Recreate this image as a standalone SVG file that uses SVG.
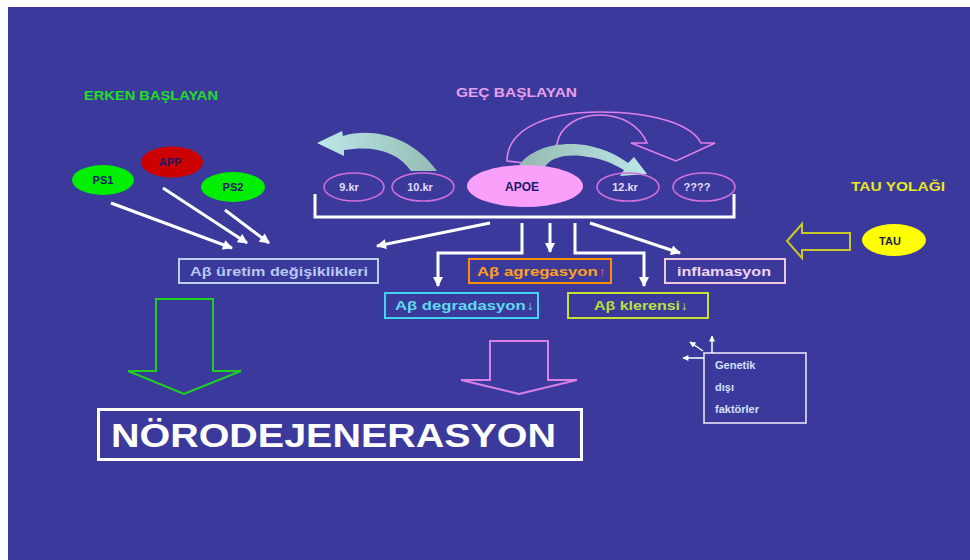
<svg xmlns="http://www.w3.org/2000/svg" width="970" height="560" viewBox="0 0 970 560">
<defs>
<style>
.t{font-family:"Liberation Sans",Arial,sans-serif;font-weight:bold}
.lbl{font-size:12px}
.dark{fill:#1a1a6a;font-size:11px}
.small{fill:#e4dcff;font-size:11px}
.conn{fill:none;stroke:#ffffff;stroke-width:3}
.thin{fill:none;stroke:#ffffff;stroke-width:1.5}
.box{fill:none;stroke-width:2}
.kr{fill:none;stroke:#d070d8;stroke-width:1.6}
</style>
<marker id="ah" viewBox="0 0 10 10" refX="9" refY="5" markerWidth="11" markerHeight="10" markerUnits="userSpaceOnUse" orient="auto"><path d="M0,0 L10,5 L0,10 z" fill="#ffffff"/></marker>
<marker id="ahs" viewBox="0 0 10 10" refX="9" refY="5" markerWidth="7" markerHeight="6" markerUnits="userSpaceOnUse" orient="auto"><path d="M0,0 L10,5 L0,10 z" fill="#ffffff"/></marker>
<linearGradient id="gL" x1="0" y1="0" x2="1" y2="0"><stop offset="0" stop-color="#bce8e8"/><stop offset="1" stop-color="#94bcb4"/></linearGradient>
<linearGradient id="gR" x1="0" y1="0" x2="1" y2="0"><stop offset="0" stop-color="#94b8b0"/><stop offset="1" stop-color="#bce8e8"/></linearGradient>
</defs>
<rect x="0" y="0" width="970" height="560" fill="#ffffff"/>
<rect x="8" y="7" width="962" height="553" fill="#3b3a9c"/>

<g id="titles">
<text class="t" x="84" y="100" font-size="12" fill="#1ee01e" textLength="134" lengthAdjust="spacingAndGlyphs">ERKEN BAŞLAYAN</text>
<text class="t" x="456" y="97" font-size="12" fill="#e8a0ec" textLength="121" lengthAdjust="spacingAndGlyphs">GEÇ BAŞLAYAN</text>
<text class="t" x="851" y="191" font-size="12" fill="#e8e820" textLength="94" lengthAdjust="spacingAndGlyphs">TAU YOLAĞI</text>
</g>

<g id="curved-arrows">
<path id="pink-curve" d="M507,161 C507,130 545,112 600,112 C655,112 692,125 701,143 L715,143 L676,161 L631,143 L647,143 C640,126 622,115 600,115 C578,115 560,126 557,144 L542,165 Z" fill="none" stroke="#e080e8" stroke-width="1.6"/>
<path id="left-curve" d="M317,143 L342,131 L343,136 C372,127 412,136 437,171 L411,171 C398,152 375,145 344,150 L344,156 Z" fill="url(#gL)"/>
<path id="right-curve" d="M518,167 C530,148 560,140 590,146 C608,150 620,157 628,163 L634,157 L647,174 L620,176 L624,170 C612,163 600,158 588,157 C565,153 550,158 544,168 Z" fill="url(#gR)"/>
</g>

<g id="ps1"><ellipse cx="103" cy="180" rx="31" ry="15" fill="#00ee00"/><text class="t dark" x="103" y="184" text-anchor="middle">PS1</text></g>
<g id="app"><ellipse cx="172" cy="162" rx="31" ry="15.5" fill="#cc0000"/><text class="t dark" x="170" y="166" text-anchor="middle">APP</text></g>
<g id="ps2"><ellipse cx="233" cy="187" rx="32" ry="15" fill="#00ee00"/><text class="t dark" x="233" y="191" text-anchor="middle">PS2</text></g>

<g id="kr9"><ellipse cx="354" cy="187" rx="30" ry="14" class="kr"/><text class="t small" x="349" y="191" text-anchor="middle">9.kr</text></g>
<g id="kr10"><ellipse cx="423" cy="187" rx="31" ry="14" class="kr"/><text class="t small" x="420" y="191" text-anchor="middle">10.kr</text></g>
<g id="apoe"><ellipse cx="525" cy="186" rx="58" ry="21" fill="#fa9ffa"/><text class="t" x="522" y="191" text-anchor="middle" font-size="12" fill="#1a1a6a">APOE</text></g>
<g id="kr12"><ellipse cx="628" cy="187" rx="31" ry="14" class="kr"/><text class="t small" x="625" y="191" text-anchor="middle">12.kr</text></g>
<g id="kr-unknown"><ellipse cx="704" cy="187" rx="31" ry="14" class="kr"/><text class="t small" x="697" y="191" text-anchor="middle">????</text></g>

<g id="tau"><ellipse cx="894" cy="240" rx="32" ry="16" fill="#ffff00"/><text class="t" x="890" y="245" text-anchor="middle" font-size="11" fill="#1a1a4a">TAU</text></g>

<g id="uretim"><rect x="179" y="259" width="199" height="24" class="box" stroke="#b8d0e8"/><text class="t lbl" x="190" y="276" fill="#b8c8f0" textLength="178" lengthAdjust="spacingAndGlyphs">Aβ üretim değişiklikleri</text></g>
<g id="agregasyon"><rect x="469" y="259" width="142" height="24" class="box" stroke="#ff8c00"/><text class="t lbl" x="477" y="276" fill="#ffa020" textLength="129" lengthAdjust="spacingAndGlyphs">Aβ agregasyon<tspan fill="#d86060">↑</tspan></text></g>
<g id="inflamasyon"><rect x="665" y="259" width="120" height="24" class="box" stroke="#f0c8e0"/><text class="t lbl" x="677" y="276" fill="#f0d4f4" textLength="94" lengthAdjust="spacingAndGlyphs">inflamasyon</text></g>
<g id="degradasyon"><rect x="385" y="293" width="153" height="25" class="box" stroke="#40d4f0"/><text class="t lbl" x="395" y="310" fill="#60d8f0" textLength="139" lengthAdjust="spacingAndGlyphs">Aβ degradasyon↓</text></g>
<g id="klerensi"><rect x="568" y="293" width="140" height="25" class="box" stroke="#c8e030"/><text class="t lbl" x="594" y="310" fill="#b8e040" textLength="94" lengthAdjust="spacingAndGlyphs">Aβ klerensi↓</text></g>

<g id="genetik-disi">
<rect x="704" y="353" width="102" height="70" fill="none" stroke="#e8e0f8" stroke-width="1.6"/>
<text class="t" font-size="11" fill="#d4e0ff" x="715" y="369">Genetik</text>
<text class="t" font-size="11" fill="#d4e0ff" x="715" y="391">dışı</text>
<text class="t" font-size="11" fill="#d4e0ff" x="715" y="413">faktörler</text>
</g>

<g id="noro"><rect x="98.5" y="409.5" width="483" height="50" fill="none" stroke="#ffffff" stroke-width="3"/><text class="t" x="111" y="447" font-size="33" fill="#ffffff" textLength="445" lengthAdjust="spacingAndGlyphs">NÖRODEJENERASYON</text></g>

<g id="block-arrows">
<path id="green-down" d="M156,299 H213 V371 H241 L184,394 L128,371 H156 Z" fill="none" stroke="#20d020" stroke-width="2"/>
<path id="pink-down" d="M490,341 H548 V380 H577 L519,394 L461,380 H490 Z" fill="none" stroke="#d880e8" stroke-width="2"/>
<path id="yellow-left" d="M787,241 L802,224 L802,233 L850,233 L850,250 L802,250 L802,258 Z" fill="none" stroke="#c8c828" stroke-width="2"/>
</g>

<g id="connectors">
<path d="M315,194 V217 H734 V194" class="conn"/>
<line x1="111" y1="203" x2="232" y2="248" class="conn" marker-end="url(#ah)"/>
<line x1="163" y1="188" x2="247" y2="243" class="conn" marker-end="url(#ah)"/>
<line x1="225" y1="210" x2="269" y2="243" class="conn" marker-end="url(#ah)"/>
<line x1="490" y1="223" x2="377" y2="246" class="conn" marker-end="url(#ah)"/>
<path d="M522,223 V253 H438 V286" class="conn" marker-end="url(#ah)"/>
<line x1="550" y1="223" x2="550" y2="252" class="conn" marker-end="url(#ah)"/>
<path d="M575,223 V253 H644 V286" class="conn" marker-end="url(#ah)"/>
<line x1="590" y1="223" x2="680" y2="253" class="conn" marker-end="url(#ah)"/>
<line x1="712" y1="353" x2="712" y2="336" class="thin" marker-end="url(#ahs)"/>
<line x1="703" y1="351" x2="690" y2="342" class="thin" marker-end="url(#ahs)"/>
<line x1="704" y1="358" x2="683" y2="358" class="thin" marker-end="url(#ahs)"/>
</g>
</svg>
